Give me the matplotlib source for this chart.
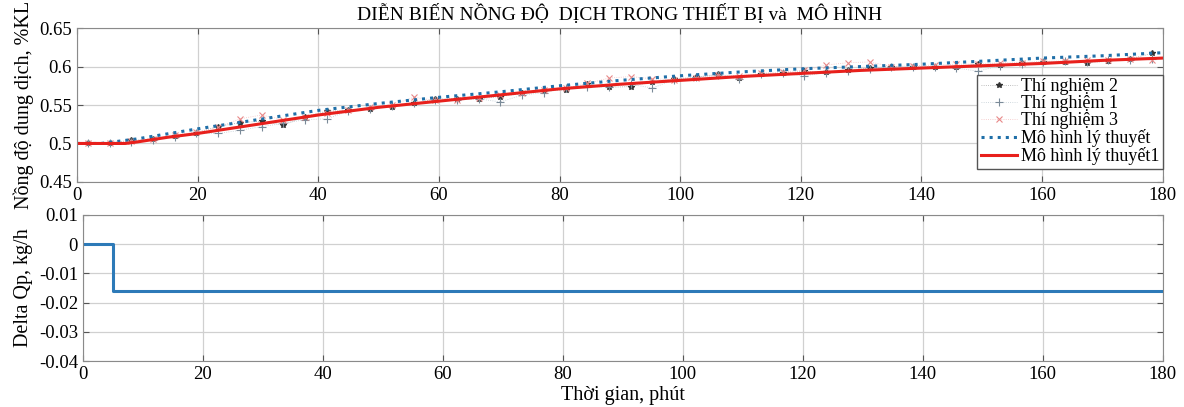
import numpy as np
import matplotlib.pyplot as plt
from matplotlib.ticker import FormatStrFormatter

plt.rcParams['font.family'] = ['Liberation Serif', 'DejaVu Serif']

# thoi gian lay mau thi nghiem (phut)
t_tn = [1.8, 5.4, 9.0, 12.6, 16.2, 19.8, 23.4, 27.0, 30.6, 34.2,
        37.8, 41.4, 45.0, 48.6, 52.2, 55.8, 59.4, 63.0, 66.6, 70.2,
        73.8, 77.4, 81.0, 84.6, 88.2, 91.8, 95.4, 99.0, 102.6, 106.2,
        109.8, 113.4, 117.0, 120.6, 124.2, 127.8, 131.4, 135.0, 138.6, 142.2,
        145.8, 149.4, 153.0, 156.6, 160.2, 163.8, 167.4, 171.0, 174.6, 178.2]

tn2 = [0.500, 0.501, 0.504, 0.506, 0.510, 0.514, 0.522, 0.527, 0.529, 0.524,
       0.535, 0.542, 0.543, 0.545, 0.548, 0.552, 0.558, 0.558, 0.558, 0.561,
       0.565, 0.568, 0.570, 0.577, 0.573, 0.574, 0.580, 0.584, 0.586, 0.590,
       0.585, 0.590, 0.591, 0.594, 0.593, 0.595, 0.598, 0.600, 0.599, 0.600,
       0.600, 0.603, 0.602, 0.604, 0.606, 0.606, 0.605, 0.607, 0.610, 0.617]

tn1 = [0.500, 0.501, 0.502, 0.505, 0.509, 0.513, 0.513, 0.517, 0.522, 0.526,
       0.531, 0.532, 0.542, 0.545, 0.549, 0.552, 0.556, 0.557, 0.558, 0.554,
       0.563, 0.566, 0.572, 0.573, 0.574, 0.577, 0.572, 0.583, 0.586, 0.589,
       0.584, 0.590, 0.591, 0.588, 0.592, 0.594, 0.597, 0.599, 0.600, 0.599,
       0.598, 0.594, 0.601, 0.603, 0.606, 0.607, 0.606, 0.608, 0.609, 0.610]

tn3 = [0.500, 0.501, 0.503, 0.506, 0.511, 0.515, 0.521, 0.532, 0.537, 0.531,
       0.535, 0.540, 0.543, 0.547, 0.550, 0.560, 0.556, 0.557, 0.559, 0.563,
       0.566, 0.569, 0.572, 0.578, 0.585, 0.587, 0.584, 0.583, 0.585, 0.589,
       0.588, 0.591, 0.593, 0.595, 0.602, 0.605, 0.606, 0.600, 0.601, 0.602,
       0.603, 0.603, 0.605, 0.605, 0.607, 0.607, 0.608, 0.609, 0.610, 0.609]

# mo hinh ly thuyet (duong cham xanh)
t_mh = [0, 4, 10, 20, 30, 40, 50, 60, 70, 80, 90, 100, 110, 120, 130, 140, 150, 160, 170, 180]
mh = [0.500, 0.500, 0.506, 0.519, 0.531, 0.543, 0.552, 0.560, 0.567, 0.575,
      0.582, 0.588, 0.593, 0.597, 0.600, 0.603, 0.607, 0.611, 0.614, 0.618]

# mo hinh ly thuyet 1 (duong do)
t_mh1 = [0, 5, 8, 10, 15, 20, 30, 40, 50, 60, 70, 80, 90, 100, 110, 120, 130, 140, 150, 160, 170, 180]
mh1 = [0.500, 0.500, 0.500, 0.502, 0.508, 0.513, 0.525, 0.537, 0.547, 0.555, 0.563,
       0.571, 0.577, 0.582, 0.587, 0.591, 0.595, 0.598, 0.601, 0.604, 0.608, 0.611]

# delta Qp
t_q = [0, 5, 180]
delta_q = [0, -0.016, -0.016]

fig = plt.figure(figsize=(11.84, 4.07), dpi=100)
ax1 = fig.add_axes([0.065, 0.553, 0.917, 0.378])
ax2 = fig.add_axes([0.070, 0.113, 0.912, 0.359])

ax1.plot(t_tn, tn2, ':', color='#a8a8a8', lw=0.6, marker='*', ms=4,
         mec='#333333', mfc='#333333', label='Thí nghiệm 2')
ax1.plot(t_tn, tn1, ':', color='#c0ccd4', lw=0.6, marker='+', ms=6,
         mec='#7a8a98', mew=0.8, label='Thí nghiệm 1')
ax1.plot(t_tn, tn3, ':', color='#f4c0c0', lw=0.6, marker='x', ms=4,
         mec='#e88888', mew=0.8, label='Thí nghiệm 3')
ax1.plot(t_mh, mh, ':', color='#1f6fa8', lw=2.2, label='Mô hình lý thuyết')
ax1.plot(t_mh1, mh1, '-', color='#e8201c', lw=2.2, label='Mô hình lý thuyết1')

ax1.set_xlim(0, 180)
ax1.set_ylim(0.45, 0.65)
ax1.set_xticks(np.arange(0, 181, 20))
ax1.set_yticks([0.45, 0.5, 0.55, 0.6, 0.65])
ax1.yaxis.set_major_formatter(FormatStrFormatter('%g'))
ax1.set_ylabel('Nồng độ dung dịch, %KL', fontsize=14.5)
ax1.set_title('DIỄN BIẾN NỒNG ĐỘ  DỊCH TRONG THIẾT BỊ và  MÔ HÌNH', fontsize=14, pad=6)
ax1.legend(loc='lower right', bbox_to_anchor=(1.0, 0.085), borderaxespad=0,
           fontsize=13, fancybox=False, edgecolor='#555555', framealpha=1,
           handlelength=2.0, handletextpad=0.2, borderpad=0.2, labelspacing=0.0)

ax2.plot(t_q, delta_q, color='#2d7ab8', lw=2.2, drawstyle='steps-post')
ax2.set_xlim(0, 180)
ax2.set_ylim(-0.04, 0.01)
ax2.set_xticks(np.arange(0, 181, 20))
ax2.set_yticks([-0.04, -0.03, -0.02, -0.01, 0, 0.01])
ax2.yaxis.set_major_formatter(FormatStrFormatter('%g'))
ax2.set_ylabel('Delta Qp, kg/h', fontsize=14.5)
ax2.set_xlabel('Thời gian, phút', fontsize=14.5, labelpad=2)

for ax in (ax1, ax2):
    ax.grid(True, color='#d0d0d0', lw=0.9)
    ax.tick_params(direction='in', top=True, right=True, labelsize=13.5,
                   color='#555555', length=4)
    for s in ax.spines.values():
        s.set_color('#8a8a8a')

fig.savefig('out.png', dpi=100)
